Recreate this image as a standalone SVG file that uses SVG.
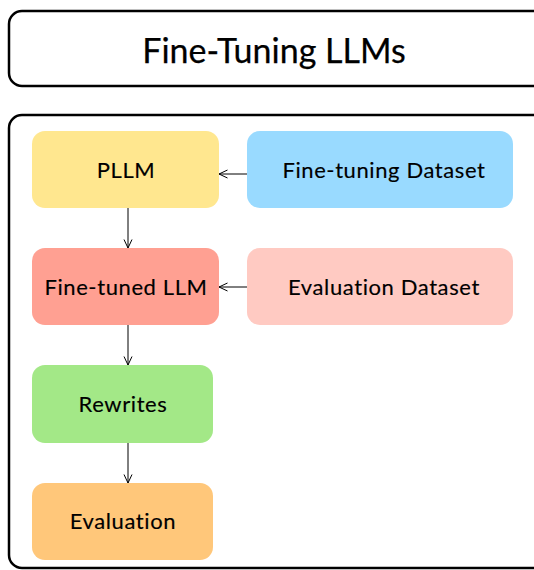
<svg xmlns="http://www.w3.org/2000/svg" width="534" height="570" viewBox="0 0 534 570">
<style>
.frame{fill:#fff;stroke:#000;stroke-width:2.5}
.node text{font-family:Lato,"Liberation Sans",sans-serif;font-size:22px;letter-spacing:0.6px;fill:#000;stroke:#000;stroke-width:0.15;text-anchor:middle;dominant-baseline:central}
.title{font-family:Lato,"Liberation Sans",sans-serif;font-size:34px;fill:#000;stroke:#000;stroke-width:0.25;text-anchor:middle;dominant-baseline:central}
.edge{stroke:#000;stroke-width:1;fill:none;marker-end:url(#arr)}
</style>
<defs>
<marker id="arr" viewBox="0 0 10 10" refX="9.5" refY="5" markerWidth="10" markerHeight="10" markerUnits="userSpaceOnUse" orient="auto">
<path d="M1,1 L9.5,5 L1,9" fill="none" stroke="#000" stroke-width="1"/>
</marker>
</defs>
<rect width="534" height="570" fill="#fff"/>
<g id="title-box">
<rect class="frame" x="9" y="11" width="540" height="75" rx="13"/>
<text class="title" x="274" y="49">Fine-Tuning LLMs</text>
</g>
<g id="container">
<rect class="frame" x="9" y="115" width="540" height="453" rx="13"/>
</g>
<g id="pllm" class="node">
<rect x="32" y="131" width="187" height="77" rx="13" fill="#FFE78F"/>
<text x="126" y="169">PLLM</text>
</g>
<g id="ft-dataset" class="node">
<rect x="247" y="131" width="266" height="77" rx="13" fill="#99DAFF"/>
<text x="384" y="169">Fine-tuning Dataset</text>
</g>
<g id="ft-llm" class="node">
<rect x="32" y="248" width="187" height="77" rx="13" fill="#FFA092"/>
<text x="126" y="286">Fine-tuned LLM</text>
</g>
<g id="eval-dataset" class="node">
<rect x="247" y="248" width="266" height="77" rx="13" fill="#FFCAC2"/>
<text x="384" y="286">Evaluation Dataset</text>
</g>
<g id="rewrites" class="node">
<rect x="32" y="365" width="181" height="78" rx="13" fill="#A3E887"/>
<text x="123" y="403">Rewrites</text>
</g>
<g id="evaluation" class="node">
<rect x="32" y="483" width="181" height="77" rx="13" fill="#FFC77A"/>
<text x="123" y="520">Evaluation</text>
</g>
<g id="connectors">
<line class="edge" x1="247" y1="174" x2="219" y2="174"/>
<line class="edge" x1="247" y1="287" x2="219" y2="287"/>
<line class="edge" x1="128" y1="208" x2="128" y2="248"/>
<line class="edge" x1="128" y1="325" x2="128" y2="365"/>
<line class="edge" x1="128" y1="443" x2="128" y2="483"/>
</g>
</svg>
